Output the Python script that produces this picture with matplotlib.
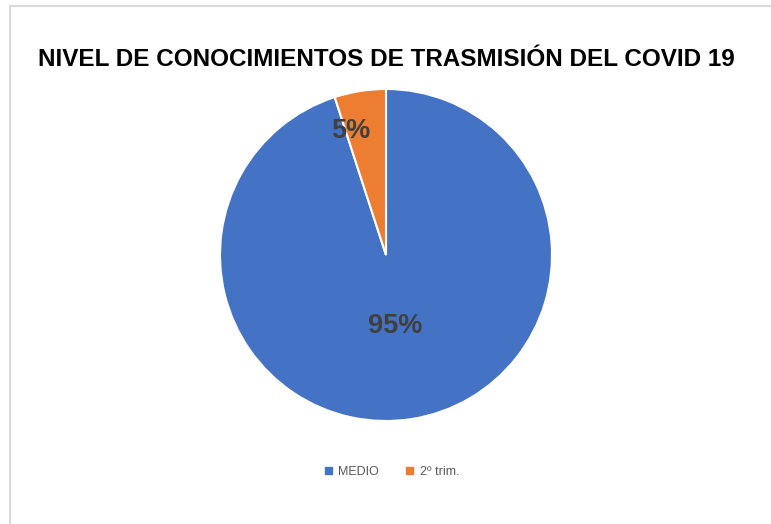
import matplotlib.pyplot as plt
import numpy as np
from matplotlib.lines import Line2D

# data
categories = ['MEDIO', '2º trim.']
values = [95, 5]
pct_labels = ['95%', '5%']
colors = ['#4472C4', '#ED7D31']

fig = plt.figure(figsize=(7.71, 5.24), dpi=100, facecolor='white')

# light frame on top and left, as in the screenshot
fig.add_artist(Line2D([10 / 771, 1.0], [1 - 6 / 524, 1 - 6 / 524],
                      color='#D9D9D9', linewidth=1.5))
fig.add_artist(Line2D([10 / 771, 10 / 771], [0.0, 1 - 6 / 524],
                      color='#D9D9D9', linewidth=1.5))

fig.text(386 / 771, 1 - 60 / 524,
         'NIVEL DE CONOCIMIENTOS DE TRASMISIÓN DEL COVID 19',
         ha='center', va='center', fontsize=17.5, fontweight='bold',
         family=['Liberation Sans Narrow', 'Liberation Sans', 'DejaVu Sans'],
         color='#000000')

# pie axes: centre (386, 255), radius ~166 px
r = 166
ax = fig.add_axes([(386 - r) / 771, 1 - (255 + r) / 524,
                   2 * r / 771, 2 * r / 524])
wedges, _ = ax.pie(values, colors=colors, startangle=90, counterclock=False,
                   wedgeprops=dict(edgecolor='white', linewidth=1.5))
ax.set_xlim(-1, 1)
ax.set_ylim(-1, 1)
ax.set_aspect('auto')

# percentage labels placed along each wedge's middle angle
label_dist = [0.43, 0.78]
label_turn = [-2, 7]
for w, lab, d, t in zip(wedges, pct_labels, label_dist, label_turn):
    ang = np.deg2rad((w.theta1 + w.theta2) / 2 + t)
    ax.text(d * np.cos(ang), d * np.sin(ang), lab, ha='center', va='center',
            fontsize=19.5, fontweight='bold', color='#404040',
            family=['Liberation Sans', 'DejaVu Sans'])

handles = [plt.Rectangle((0, 0), 1, 1, color=c) for c in colors]
fig.legend(handles, categories, loc='center', ncol=2,
           bbox_to_anchor=(392 / 771, 1 - 472 / 524), frameon=False,
           handlelength=0.55, handleheight=0.55, handletextpad=0.5,
           columnspacing=2.2,
           prop=dict(family=['Liberation Sans', 'DejaVu Sans'], size=9),
           labelcolor='#595959')

fig.savefig('out.png', dpi=100, facecolor='white')
